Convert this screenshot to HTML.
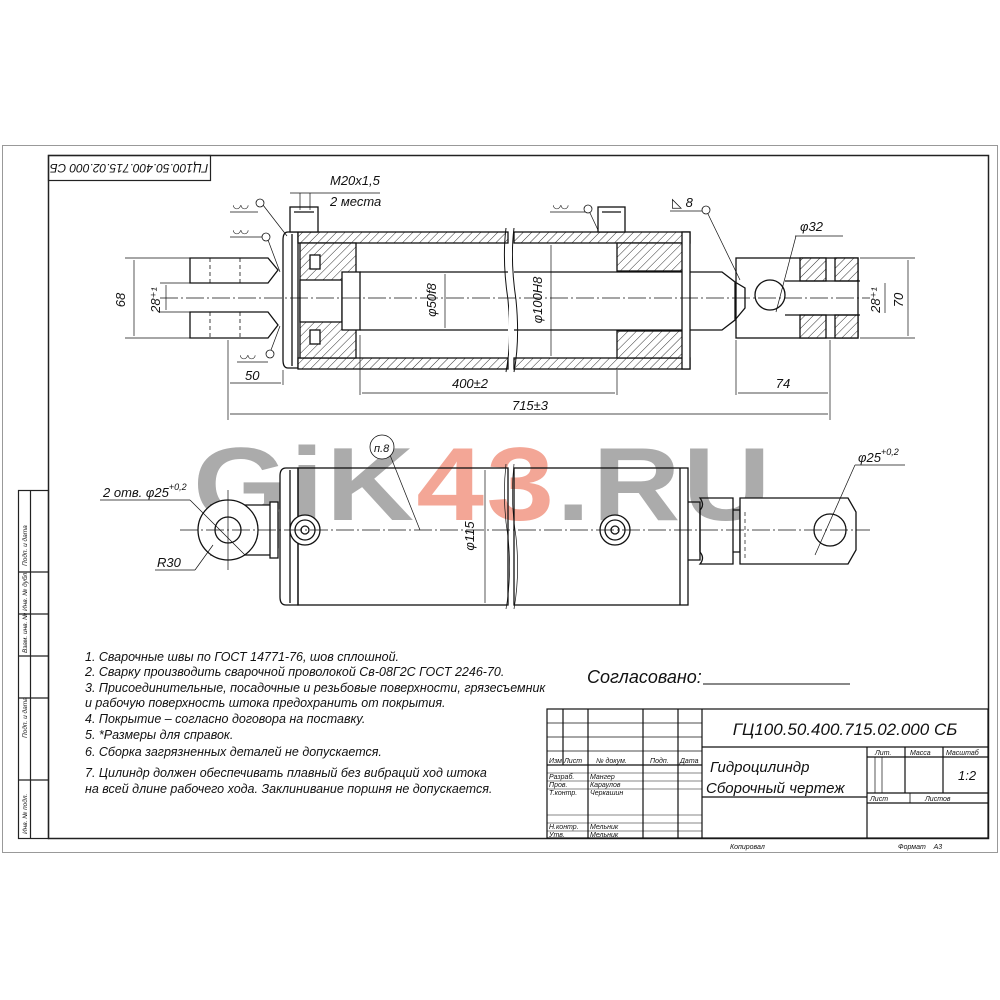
<!DOCTYPE html>
<html><head><meta charset="utf-8"><style>
html,body{margin:0;padding:0;background:#fff;}
svg{display:block;}
text{font-family:"Liberation Sans","DejaVu Sans",sans-serif;font-style:italic;fill:#111;}
</style></head><body>
<svg width="1000" height="1000" viewBox="0 0 1000 1000" xmlns="http://www.w3.org/2000/svg">
<defs>
<pattern id="h" width="6" height="6" patternUnits="userSpaceOnUse" patternTransform="rotate(45)">
<rect width="6" height="6" fill="#fff"/><line x1="0" y1="0" x2="0" y2="6" stroke="#333" stroke-width="1"/></pattern>
</defs>
<rect x="0" y="0" width="1000" height="1000" fill="#fff"/>
<rect x="2.5" y="145.5" width="995" height="707" fill="none" stroke="#999" stroke-width="1"/>
<rect x="48.5" y="155.5" width="940" height="683" fill="none" stroke="#222" stroke-width="1.5"/>
<rect x="48.5" y="155.5" width="162" height="25" fill="none" stroke="#222" stroke-width="1.2"/>
<text x="129" y="168" font-size="12" text-anchor="middle" transform="rotate(180 129 168)" dy="4">ГЦ100.50.400.715.02.000 СБ</text>
<g stroke="#222" stroke-width="1.2" fill="none">
<rect x="18.5" y="490.5" width="30" height="348"/>
<line x1="30.5" y1="490" x2="30.5" y2="838"/>
<line x1="18" y1="572" x2="48" y2="572"/><line x1="18" y1="614" x2="48" y2="614"/>
<line x1="18" y1="656" x2="48" y2="656"/><line x1="18" y1="698" x2="48" y2="698"/>
<line x1="18" y1="780" x2="48" y2="780"/>
</g>
<g font-size="6.5">
<text transform="translate(27 566) rotate(-90)">Подп. и дата</text>
<text transform="translate(27 611) rotate(-90)">Инв. № дубл.</text>
<text transform="translate(27 653) rotate(-90)">Взам. инв. №</text>
<text transform="translate(27 738) rotate(-90)">Подп. и дата</text>
<text transform="translate(27 834) rotate(-90)">Инв. № подл.</text>
</g>

<text x="193" y="520" font-size="104" font-weight="bold" fill="#ababab" style="font-style:normal;letter-spacing:2px" textLength="580" lengthAdjust="spacingAndGlyphs"><tspan fill="#ababab">GiK</tspan><tspan fill="#f3a696">43</tspan><tspan fill="#ababab">.RU</tspan></text>

<g stroke="#111" stroke-width="1.3" fill="none">
<path d="M190 258 H268 L278 270 L268 283 H190 Z" fill="#fff"/>
<path d="M190 312 H268 L278 325 L268 338 H190 Z" fill="#fff"/>
<line x1="210" y1="258" x2="210" y2="283" stroke-dasharray="4 3" stroke-width="0.8"/>
<line x1="210" y1="312" x2="210" y2="338" stroke-dasharray="4 3" stroke-width="0.8"/>
<line x1="240" y1="258" x2="240" y2="283" stroke-dasharray="4 3" stroke-width="0.8"/>
<line x1="240" y1="312" x2="240" y2="338" stroke-dasharray="4 3" stroke-width="0.8"/>
<path d="M288 232 H298 V368 H288 Q283 368 283 360 V240 Q283 232 288 232 Z" fill="#fff"/>
<line x1="292" y1="234" x2="292" y2="366"/>
<rect x="298" y="232" width="210" height="11" fill="url(#h)"/>
<rect x="298" y="358" width="210" height="11" fill="url(#h)"/>
<rect x="514" y="232" width="176" height="11" fill="url(#h)"/>
<rect x="514" y="358" width="176" height="11" fill="url(#h)"/>
<rect x="290" y="207" width="28" height="25" fill="#fff"/>
<line x1="294" y1="212" x2="314" y2="212"/>
<rect x="598" y="207" width="27" height="25" fill="#fff"/>
<line x1="602" y1="212" x2="621" y2="212"/>
<rect x="300" y="243" width="56" height="115" fill="url(#h)"/>
<rect x="300" y="280" width="42" height="42" fill="#fff"/>
<rect x="342" y="272" width="18" height="58" fill="#fff"/>
<rect x="310" y="255" width="10" height="14" fill="#fff"/>
<rect x="310" y="330" width="10" height="14" fill="#fff"/>
<path d="M360 272 H508 M360 330 H508 M514 272 H700 M514 330 H700"/>
<path d="M700 272 H722 L735 282 V320 L722 330 H700"/>
<rect x="617" y="243" width="70" height="28" fill="url(#h)"/>
<rect x="617" y="331" width="70" height="27" fill="url(#h)"/>
<rect x="682" y="232" width="8" height="137" fill="#fff"/>
<path d="M506 228 Q502 260 508 300 Q512 340 506 372" stroke-width="1"/>
<path d="M514 228 Q510 260 516 300 Q520 340 514 372" stroke-width="1"/>
<rect x="509" y="226" width="3" height="148" fill="#fff" stroke="none"/>
<path d="M735 282 L745 288 V308 L735 320"/>
<circle cx="770" cy="295" r="15" fill="#fff"/>
<rect x="736" y="258" width="122" height="80"/>
<rect x="800" y="258" width="26" height="23" fill="url(#h)"/>
<rect x="800" y="315" width="26" height="23" fill="url(#h)"/>
<rect x="835" y="258" width="23" height="23" fill="url(#h)"/>
<rect x="835" y="315" width="23" height="23" fill="url(#h)"/>
<path d="M785 281 H860 M785 315 H860"/>
</g>
<g stroke="#111" stroke-width="0.7" fill="none">
<line x1="160" y1="298" x2="870" y2="298" stroke-dasharray="18 3 2 3"/>
<line x1="125" y1="258" x2="190" y2="258"/><line x1="125" y1="338" x2="190" y2="338"/>
<line x1="134" y1="260" x2="134" y2="336"/>
<line x1="160" y1="283" x2="190" y2="283"/><line x1="160" y1="312" x2="190" y2="312"/>
<line x1="166" y1="285" x2="166" y2="310"/>
<line x1="228" y1="340" x2="228" y2="420"/>
<line x1="283" y1="370" x2="283" y2="385"/>
<line x1="230" y1="383" x2="281" y2="383"/>
<line x1="360" y1="335" x2="360" y2="395"/>
<line x1="617" y1="370" x2="617" y2="395"/>
<line x1="362" y1="393" x2="615" y2="393"/>
<line x1="736" y1="340" x2="736" y2="395"/>
<line x1="830" y1="340" x2="830" y2="420"/>
<line x1="738" y1="393" x2="828" y2="393"/>
<line x1="230" y1="414" x2="828" y2="414"/>
<line x1="445" y1="274" x2="445" y2="328"/>
<line x1="551" y1="245" x2="551" y2="356"/>
<line x1="860" y1="258" x2="915" y2="258"/><line x1="860" y1="338" x2="915" y2="338"/>
<line x1="908" y1="260" x2="908" y2="336"/>
<line x1="885" y1="283" x2="885" y2="313"/>
<line x1="230" y1="212" x2="258" y2="212"/><line x1="263" y1="205" x2="287" y2="236"/>
<line x1="230" y1="237" x2="262" y2="237"/><line x1="268" y1="240" x2="280" y2="272"/>
<line x1="237" y1="362" x2="268" y2="362"/><line x1="271" y1="350" x2="280" y2="326"/>
<line x1="550" y1="212" x2="585" y2="212"/><line x1="590" y1="213" x2="598" y2="230"/>
<line x1="670" y1="211" x2="702" y2="211"/><line x1="708" y1="214" x2="740" y2="280"/>
<line x1="795" y1="236" x2="843" y2="236"/><line x1="796" y1="236" x2="776" y2="312"/>
<line x1="290" y1="193" x2="380" y2="193"/><line x1="310" y1="193" x2="310" y2="210"/><line x1="300" y1="193" x2="300" y2="210"/>
</g>
<g fill="#fff" stroke="#111" stroke-width="0.8">
<circle cx="260" cy="203" r="4"/><circle cx="266" cy="237" r="4"/><circle cx="270" cy="354" r="4"/>
<circle cx="588" cy="209" r="4"/><circle cx="706" cy="210" r="4"/>
</g>
<g font-size="13">
<text x="330" y="185">M20x1,5</text>
<text x="330" y="206">2 места</text>
<text x="233" y="208" font-size="10">◡◡</text>
<text x="233" y="233" font-size="10">◡◡</text>
<text x="240" y="358" font-size="10">◡◡</text>
<text x="553" y="208" font-size="10">◡◡</text>
<text x="672" y="207">◺ 8</text>
<text x="800" y="231">φ32</text>
<text x="120" y="305" transform="rotate(-90 120 300)" text-anchor="middle">68</text>
<text x="155" y="305" transform="rotate(-90 155 300)" text-anchor="middle">28⁺¹</text>
<text x="245" y="380">50</text>
<text x="470" y="388" text-anchor="middle">400±2</text>
<text x="783" y="388" text-anchor="middle">74</text>
<text x="530" y="410" text-anchor="middle">715±3</text>
<text x="436" y="300" transform="rotate(-90 436 300)" text-anchor="middle">φ50f8</text>
<text x="542" y="300" transform="rotate(-90 542 300)" text-anchor="middle">φ100H8</text>
<text x="880" y="300" transform="rotate(-90 880 300)" text-anchor="middle">28⁺¹</text>
<text x="903" y="300" transform="rotate(-90 903 300)" text-anchor="middle">70</text>
</g>

<g stroke="#111" stroke-width="1.3" fill="none">
<path d="M212 505 H270 L278 512 V548 L270 555 H212 A30 30 0 0 0 212 505 Z" fill="#fff"/>
<circle cx="228" cy="530" r="30" fill="#fff"/>
<rect x="270" y="502" width="8" height="56" fill="#fff"/>
<circle cx="228" cy="530" r="13"/>
<path d="M286 468 H298 V605 H286 Q280 605 280 597 V476 Q280 468 286 468 Z" fill="#fff"/>
<line x1="290" y1="470" x2="290" y2="603"/>
<rect x="298" y="468" width="210" height="137" fill="none"/>
<rect x="514" y="468" width="174" height="137" fill="none"/>
<line x1="680" y1="468" x2="680" y2="605"/>
<circle cx="305" cy="530" r="15" fill="#fff"/><circle cx="305" cy="530" r="10"/><circle cx="305" cy="530" r="4"/>
<circle cx="615" cy="530" r="15" fill="#fff"/><circle cx="615" cy="530" r="10"/><circle cx="615" cy="530" r="4"/>
<path d="M688 502 H700 V560 H688"/>
<path d="M700 498 Q705 505 700 510 V552 Q705 558 700 564 H733 V498 Z"/>
<path d="M733 510 H740 V552 H733"/>
<path d="M740 498 H848 L856 512 V550 L848 564 H740 Z" fill="#fff"/>
<circle cx="830" cy="530" r="16"/>
</g>
<g stroke="#111" stroke-width="0.7" fill="none">
<line x1="180" y1="530" x2="870" y2="530" stroke-dasharray="18 3 2 3"/>
<line x1="228" y1="490" x2="228" y2="570"/>
<line x1="100" y1="500" x2="190" y2="500"/><line x1="190" y1="500" x2="245" y2="555"/>
<line x1="155" y1="570" x2="195" y2="570"/><line x1="195" y1="570" x2="213" y2="545"/>
<line x1="485" y1="470" x2="485" y2="603"/>
<line x1="390" y1="455" x2="420" y2="530"/>
<line x1="855" y1="465" x2="905" y2="465"/><line x1="855" y1="465" x2="815" y2="555"/>
<line x1="745" y1="512" x2="745" y2="560" stroke-dasharray="4 3"/>
<path d="M506 464 Q502 500 508 537 Q512 575 506 609 M514 464 Q510 500 516 537 Q520 575 514 609"/>
</g>
<circle cx="382" cy="447" r="12" fill="#fff" stroke="#111" stroke-width="0.8"/>
<g font-size="13">
<text x="374" y="452" font-size="11">п.8</text>
<text x="103" y="497">2 отв. φ25<tspan font-size="9" dy="-7">+0,2</tspan></text>
<text x="157" y="567">R30</text>
<text x="470" y="540" transform="rotate(-90 470 536)" text-anchor="middle">φ115</text>
<text x="858" y="462">φ25<tspan font-size="9" dy="-7">+0,2</tspan></text>
</g>

<g font-size="12.5">
<text x="85" y="661">1. Сварочные швы по ГОСТ 14771-76, шов сплошной.</text>
<text x="85" y="676">2. Сварку производить сварочной проволокой Св-08Г2С ГОСТ 2246-70.</text>
<text x="85" y="692">3. Присоединительные, посадочные и резьбовые поверхности, грязесъемник</text>
<text x="85" y="707">и рабочую поверхность штока предохранить от покрытия.</text>
<text x="85" y="723">4. Покрытие – согласно договора на поставку.</text>
<text x="85" y="739">5. *Размеры для справок.</text>
<text x="85" y="756">6. Сборка загрязненных деталей не допускается.</text>
<text x="85" y="777">7. Цилиндр должен обеспечивать плавный без вибраций ход штока</text>
<text x="85" y="793">на всей длине рабочего хода. Заклинивание поршня не допускается.</text>
</g>
<text x="587" y="683" font-size="18">Согласовано:</text>
<line x1="703" y1="684" x2="850" y2="684" stroke="#111" stroke-width="1"/>

<g stroke="#111" stroke-width="1.2" fill="none">
<rect x="547" y="709" width="441" height="129"/>
<line x1="702" y1="709" x2="702" y2="838"/>
<line x1="702" y1="747" x2="988" y2="747"/>
<line x1="867" y1="747" x2="867" y2="838"/>
<line x1="867" y1="757" x2="988" y2="757"/>
<line x1="867" y1="793" x2="988" y2="793"/>
<line x1="867" y1="803" x2="988" y2="803"/>
<line x1="905" y1="747" x2="905" y2="793"/>
<line x1="943" y1="747" x2="943" y2="793"/>
<line x1="875" y1="757" x2="875" y2="793" stroke-width="0.7"/>
<line x1="882" y1="757" x2="882" y2="793" stroke-width="0.7"/>
<line x1="910" y1="793" x2="910" y2="803" stroke-width="0.8"/>
<line x1="702" y1="797" x2="867" y2="797"/>
<line x1="563" y1="709" x2="563" y2="765"/>
<line x1="588" y1="709" x2="588" y2="838"/>
<line x1="643" y1="709" x2="643" y2="838"/>
<line x1="678" y1="709" x2="678" y2="838"/>
<line x1="547" y1="723" x2="702" y2="723" stroke-width="0.8"/>
<line x1="547" y1="737" x2="702" y2="737" stroke-width="0.8"/>
<line x1="547" y1="751" x2="702" y2="751" stroke-width="0.8"/>
<line x1="547" y1="765" x2="702" y2="765"/>
<line x1="547" y1="773" x2="702" y2="773" stroke-width="0.6"/>
<line x1="547" y1="781" x2="702" y2="781" stroke-width="0.6"/>
<line x1="547" y1="789" x2="702" y2="789" stroke-width="0.6"/>
<line x1="547" y1="815" x2="702" y2="815" stroke-width="0.6"/>
<line x1="547" y1="823" x2="702" y2="823" stroke-width="0.6"/>
<line x1="547" y1="831" x2="702" y2="831" stroke-width="0.6"/>
</g>
<g font-size="7">
<text x="549" y="763">Изм</text><text x="564" y="763">Лист</text><text x="596" y="763">№ докум.</text><text x="650" y="763">Подп.</text><text x="680" y="763">Дата</text>
<text x="549" y="779">Разраб.</text><text x="590" y="779">Мангер</text>
<text x="549" y="787">Пров.</text><text x="590" y="787">Караулов</text>
<text x="549" y="795">Т.контр.</text><text x="590" y="795">Черкашин</text>
<text x="549" y="829">Н.контр.</text><text x="590" y="829">Мельник</text>
<text x="549" y="837">Утв.</text><text x="590" y="837">Мельник</text>
<text x="875" y="755">Лит.</text><text x="910" y="755">Масса</text><text x="946" y="755">Масштаб</text>
<text x="870" y="801">Лист</text><text x="925" y="801">Листов</text>
<text x="730" y="849">Копировал</text><text x="898" y="849">Формат&#160;&#160;&#160;&#160;А3</text>
</g>
<text x="845" y="735" font-size="17" text-anchor="middle">ГЦ100.50.400.715.02.000 СБ</text>
<text x="710" y="772" font-size="15">Гидроцилиндр</text>
<text x="706" y="793" font-size="15">Сборочный чертеж</text>
<text x="958" y="780" font-size="13">1:2</text>
</svg>
</body></html>
